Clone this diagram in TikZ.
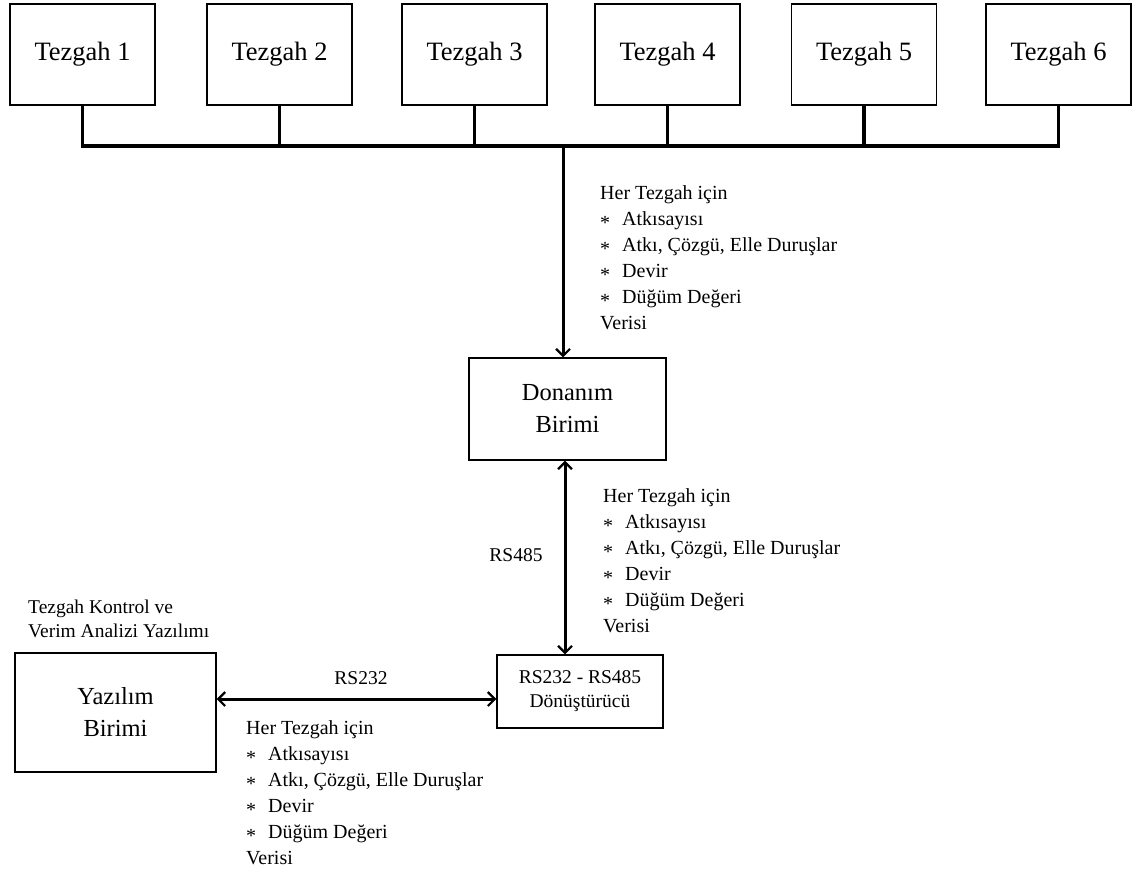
\documentclass[tikz,border=0pt]{standalone}
\usepackage{fontspec}
\setmainfont{Liberation Serif}
\usetikzlibrary{arrows.meta}
% bullet used in the data lists
\newcommand{\infobullet}{\makebox[22pt][l]{\raisebox{-0.45ex}{*}}}
\begin{document}
\begin{tikzpicture}[x=1pt,y=-1pt,
  box/.style={draw,line width=1.3pt,inner sep=0pt,align=center},
  machine/.style={box,minimum width=145pt,minimum height=101pt,font=\fontsize{26.5}{30}\selectfont},
  unit/.style={box,font=\fontsize{24.5}{32}\selectfont},
  info/.style={anchor=north west,inner sep=0pt,align=left,font=\fontsize{20}{26}\selectfont},
  lbl/.style={inner sep=0pt,font=\fontsize{19.5}{24}\selectfont},
  bus/.style={line width=3.2pt,line join=miter},
  tip/.tip={Straight Barb[length=7pt,width=14pt,line width=2.2pt]},
  link/.style={line width=3pt,-tip},
  dlink/.style={line width=3pt,tip-tip}
]
\useasboundingbox (0,0) rectangle (1134,871);

% looms
\node[machine] (t1) at (82.5,54.5)  {Tezgah 1};
\node[machine] (t2) at (279.5,54.5) {Tezgah 2};
\node[machine] (t3) at (474.5,54.5) {Tezgah 3};
\node[machine] (t4) at (667.5,54.5) {Tezgah 4};
\node[machine] (t5) at (864,54.5)   {Tezgah 5};
\node[machine] (t6) at (1058.5,54.5){Tezgah 6};

% units
\node[unit,minimum width=197pt,minimum height=102pt] (don) at (567.5,409) {Donanım\\Birimi};
\node[box,minimum width=166pt,minimum height=73pt,font=\fontsize{19.5}{24}\selectfont] (rs) at (580,691.5) {RS232 - RS485\\Dönüştürücü};
\node[unit,minimum width=201pt,minimum height=119pt] (yaz) at (115.5,712.5) {Yazılım\\Birimi};

% common bus
\coordinate (busy) at (0,146);
\draw[bus] (t1.south) |- (t6.south |- busy) -- (t6.south);
\foreach \t in {t2,t3,t4,t5}
  \draw[bus] (\t.south) -- (\t.south |- busy);

% connections
\coordinate (drop) at (563,146);
\draw[link] (drop) -- (drop |- don.north);
\coordinate (vx) at (565,0);
\draw[dlink] (vx |- don.south) -- (vx |- rs.north);
\coordinate (hy) at (0,699);
\draw[dlink] (yaz.east |- hy) -- (rs.west |- hy);

% labels
\node[lbl] (rs485) at (516,555) {RS485};
\node[lbl] (rs232) at (361,678) {RS232};
\node[lbl,anchor=north west,align=left] (soft) at (28,600) {Tezgah Kontrol ve\\Verim Analizi Yazılımı};

% transferred data
\node[info] (d1) at (600,185.5) {Her Tezgah için\\
\infobullet Atkısayısı\\
\infobullet Atkı, Çözgü, Elle Duruşlar\\
\infobullet Devir\\
\infobullet Düğüm Değeri\\
Verisi};
\node[info] (d2) at (603,488.5) {Her Tezgah için\\
\infobullet Atkısayısı\\
\infobullet Atkı, Çözgü, Elle Duruşlar\\
\infobullet Devir\\
\infobullet Düğüm Değeri\\
Verisi};
\node[info] (d3) at (246,720.5) {Her Tezgah için\\
\infobullet Atkısayısı\\
\infobullet Atkı, Çözgü, Elle Duruşlar\\
\infobullet Devir\\
\infobullet Düğüm Değeri\\
Verisi};
\end{tikzpicture}
\end{document}
